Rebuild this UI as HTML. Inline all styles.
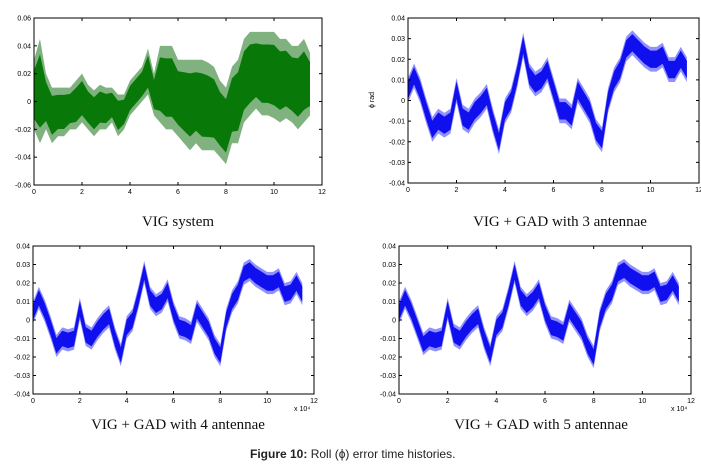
<!DOCTYPE html>
<html><head><meta charset="utf-8"><style>
body{margin:0;background:#fff;width:701px;height:465px;overflow:hidden;position:relative;font-family:"Liberation Sans",sans-serif}
.cap{position:absolute;font-family:"Liberation Serif",serif;font-size:15px;color:#111;white-space:nowrap;transform:translateX(-50%)}
</style></head><body>
<svg id="svg" width="701" height="465" style="position:absolute;left:0;top:0"></svg>
<div class="cap" style="left:178px;top:214px">VIG system</div>
<div class="cap" style="left:560px;top:214px">VIG + GAD with 3 antennae</div>
<div class="cap" style="left:178px;top:417px">VIG + GAD with 4 antennae</div>
<div class="cap" style="left:541px;top:417px">VIG + GAD with 5 antennae</div>
<div style="position:absolute;left:250px;top:447px;font-size:12px;color:#222"><b>Figure 10:</b> Roll (ϕ) error time histories.</div>
<script>
const xs=[0,0.25,0.5,0.75,1,1.25,1.5,1.75,2,2.25,2.5,2.75,3,3.25,3.5,3.75,4,4.25,4.5,4.75,5,5.25,5.5,5.75,6,6.25,6.5,6.75,7,7.25,7.5,7.75,8,8.25,8.5,8.75,9,9.25,9.5,9.75,10,10.25,10.5,10.75,11,11.25,11.5];
const vigUpper=[.03,.045,.02,.01,.01,.01,.01,.015,.02,.012,.008,.012,.01,.01,.005,.005,.015,.02,.025,.038,.02,.04,.04,.04,.03,.03,.03,.03,.03,.028,.025,.015,.01,.025,.03,.045,.05,.05,.05,.05,.05,.045,.045,.04,.04,.045,.035];
const vigLower=[-.02,-.03,-.02,-.03,-.025,-.025,-.02,-.02,-.015,-.02,-.025,-.02,-.02,-.015,-.025,-.02,-.01,-.005,0,.005,-.01,-.015,-.02,-.02,-.025,-.03,-.035,-.03,-.035,-.035,-.035,-.04,-.045,-.03,-.03,-.015,-.01,-.005,-.01,-.01,-.012,-.015,-.012,-.015,-.02,-.015,-.01];
const ant3=[.005,.012,.005,-.005,-.014,-.01,-.012,-.01,.005,-.008,-.01,-.005,-.002,.002,-.01,-.02,-.005,0,.012,.027,.012,.008,.01,.015,.005,-.005,-.005,-.008,.005,0,-.005,-.015,-.019,0,.01,.015,.025,.028,.025,.022,.02,.02,.022,.015,.015,.02,.015];
const ant4=[.004,.012,.005,-.004,-.014,-.01,-.011,-.01,.006,-.008,-.01,-.005,-.001,.002,-.01,-.019,-.004,0,.012,.026,.012,.008,.01,.016,.004,-.004,-.005,-.007,.005,0,-.005,-.014,-.019,0,.01,.015,.025,.027,.024,.022,.02,.02,.022,.014,.015,.02,.014];
const ant5=[.004,.012,.005,-.004,-.013,-.01,-.011,-.01,.006,-.008,-.01,-.005,-.001,.002,-.01,-.019,-.004,0,.012,.026,.012,.008,.011,.016,.004,-.004,-.005,-.007,.005,0,-.005,-.014,-.02,0,.01,.015,.025,.027,.024,.022,.02,.02,.022,.014,.015,.02,.014];
const xTicks=[0,2,4,6,8,10,12];
const yTicksA=[-0.06,-0.04,-0.02,0,0.02,0.04,0.06];
const yLabelsA=["-0.06","-0.04","-0.02","0","0.02","0.04","0.06"];
const yTicksB=[-0.04,-0.03,-0.02,-0.01,0,0.01,0.02,0.03,0.04];
const yLabelsB=["-0.04","-0.03","-0.02","-0.01","0","0.01","0.02","0.03","0.04"];
const NS="http://www.w3.org/2000/svg",svg=document.getElementById('svg');
function mk(t,a,p){const e=document.createElementNS(NS,t);for(const k in a)e.setAttribute(k,a[k]);(p||svg).appendChild(e);return e;}
function panel(name,L,R,T,B,ymin,ymax,yt,yl,upper,lower,c1,c2,xe){
 const g=mk('g',{});
 
 
 const sx=v=>L+(v-0)/12*(R-L), sy=v=>B-(v-ymin)/(ymax-ymin)*(B-T);
 let pts=xs.map((x,i)=>sx(x)+','+sy(upper[i])).concat(xs.map((x,i)=>sx(x)+','+sy(lower[i])).reverse());
 const band=mk('polygon',{points:pts.join(' '),fill:c2},g);
 
 
 let inner=xs.map((x,i)=>sx(x)+','+sy(upper[i]-(upper[i]-lower[i])*0.15)).concat(xs.map((x,i)=>sx(x)+','+sy(lower[i]+(upper[i]-lower[i])*0.15)).reverse());
 const core=mk('polygon',{points:inner.join(' '),fill:c1},g);
 
 
 mk('rect',{x:L,y:T,width:R-L,height:B-T,fill:'none',stroke:'#000','stroke-width':1},g);
 xTicks.forEach(v=>{const x=sx(v);mk('line',{x1:x,x2:x,y1:B,y2:B-3,stroke:'#000'},g);mk('line',{x1:x,x2:x,y1:T,y2:T+3,stroke:'#000'},g);
  const t=mk('text',{x:x,y:B+9,'font-size':7,'text-anchor':'middle','font-family':'Liberation Sans'},g);t.textContent=v;});
 yt.forEach((v,i)=>{const y=sy(v);mk('line',{x1:L,x2:L+3,y1:y,y2:y,stroke:'#000'},g);mk('line',{x1:R,x2:R-3,y1:y,y2:y,stroke:'#000'},g);
  const t=mk('text',{x:L-3,y:y+2.5,'font-size':7,'text-anchor':'end','font-family':'Liberation Sans'},g);t.textContent=yl[i];});
 if(xe){const t=mk('text',{x:R-20,y:B+17,'font-size':7,'font-family':'Liberation Sans'},g);t.textContent='x 10⁴';}
}
const band=(a,h)=>a.map(v=>v+h);
panel('plot-vig-system',34,322,18,185,-0.06,0.06,yTicksA,yLabelsA,vigUpper,vigLower,'#087808','#7fb27f',false);
panel('plot-3-antennae',408,699,18,183,-0.04,0.04,yTicksB,yLabelsB,band(ant3,0.006),band(ant3,-0.006),'#1010ee','#9090ff',false);
panel('plot-4-antennae',33,314,246,394,-0.04,0.04,yTicksB,yLabelsB,band(ant4,0.006),band(ant4,-0.006),'#1010ee','#9090ff',true);
panel('plot-5-antennae',399,691,246,394,-0.04,0.04,yTicksB,yLabelsB,band(ant5,0.006),band(ant5,-0.006),'#1010ee','#9090ff',true);
const yl=mk('text',{x:374,y:100,'font-size':7,'text-anchor':'middle',transform:'rotate(-90 374 100)','font-family':'Liberation Sans'});


yl.textContent='ϕ rad';
</script>
</body></html>
